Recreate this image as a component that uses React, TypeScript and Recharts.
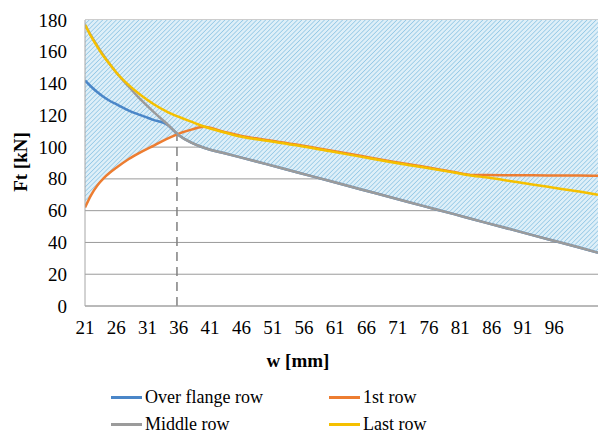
import React from 'react';
import { ComposedChart, Line, Area, XAxis, YAxis, CartesianGrid, ReferenceLine, Legend, Label } from 'recharts';

const wValues = [21, 22, 23, 24, 25, 26, 28, 30, 32, 34, 36, 38, 40, 43, 46, 50, 55, 60, 65, 70, 75, 80, 83, 85, 90, 95, 100, 103];
const overFlangeRow = [142, 138, 134.5, 131.5, 129, 127, 123, 120, 117, 114.5, 107.5, 102.8, 99.6, 96.4, 93.4, 89.3, 84, 78.8, 73.5, 68.3, 63, 57.8, 54.6, 52.5, 47.3, 42, 36.8, 33.5];
const firstRow = [62, 70, 76, 80.5, 84, 87, 92.5, 97, 101, 105, 108.5, 111, 112.8, 109.8, 107, 104.5, 101.5, 98, 94.5, 91, 87.8, 84.3, 82.5, 82.4, 82.3, 82.2, 82.1, 82];
const middleRow = [177, 170, 163.5, 157.5, 152, 147, 138, 129.5, 122, 115, 107.5, 102.8, 99.6, 96.4, 93.4, 89.3, 84, 78.8, 73.5, 68.3, 63, 57.8, 54.6, 52.5, 47.3, 42, 36.8, 33.5];
const lastRow = [177, 169.5, 163, 157, 152, 147, 139, 132.5, 127, 122.5, 119, 116, 113, 109.5, 106.5, 104, 101, 97.5, 94, 90.5, 87.3, 84, 82, 81, 78, 75, 72, 70];

const xTicks = [21, 26, 31, 36, 41, 46, 51, 56, 61, 66, 71, 76, 81, 86, 91, 96];
const yTicks = [0, 20, 40, 60, 80, 100, 120, 140, 160, 180];
const yMax = 180;
const criticalW = 35.7;
const criticalFt = 108;

const seriesNames = ['Over flange row', '1st row', 'Middle row', 'Last row'];
const seriesColors = ['#4a86c8', '#ed7d31', '#9b9b9b', '#f5c000'];

const data = wValues.map((w, i) => ({
  w,
  overFlange: overFlangeRow[i],
  first: firstRow[i],
  middle: middleRow[i],
  last: lastRow[i],
  zone: [Math.min(firstRow[i], middleRow[i]), yMax],
}));

const FONT = "'Liberation Serif', 'Times New Roman', serif";

const XTick = (props: any) => {
  const { x, y, payload } = props;
  return (
    <text x={x} y={y + 6} textAnchor="middle" dominantBaseline="hanging" fontFamily={FONT} fontSize={19} fill="#000">
      {payload.value}
    </text>
  );
};

const YTick = (props: any) => {
  const { y, payload } = props;
  return (
    <text x={67} y={y} textAnchor="end" dominantBaseline="central" fontFamily={FONT} fontSize={19} fill="#000">
      {payload.value}
    </text>
  );
};

const renderLegend = () => (
  <div style={{ position: 'relative', height: 0, width: 600, fontFamily: FONT, fontSize: 18, color: '#000' }}>
    {seriesNames.map((name, i) => (
      <div
        key={name}
        style={{
          position: 'absolute',
          left: i % 2 === 0 ? 111 : 329,
          top: Math.floor(i / 2) * 27,
          display: 'flex',
          alignItems: 'center',
          whiteSpace: 'nowrap',
          lineHeight: '18px',
          height: 18,
        }}
      >
        <span style={{ display: 'inline-block', width: 31, height: 3, background: seriesColors[i], marginRight: 3 }} />
        <span>{name}</span>
      </div>
    ))}
  </div>
);

export default function App() {
  return (
    <div style={{ position: 'absolute', left: 0, top: 0, width: 600, height: 434, background: '#fff', fontFamily: FONT }}>
      <svg width={0} height={0} style={{ position: 'absolute' }}>
        <defs>
          <pattern id="hatch" width="3.2" height="3.2" patternUnits="userSpaceOnUse" patternTransform="rotate(45)">
            <rect x="0" y="0" width="3.2" height="3.2" fill="#deeff8" />
            <line x1="0" y1="0" x2="0" y2="3.2" stroke="#86c1e2" strokeWidth="1.3" />
          </pattern>
        </defs>
      </svg>
      <ComposedChart
        width={600}
        height={434}
        data={data}
        margin={{ top: 20, right: 2, left: 0, bottom: 98 }}
      >
        <Area
          type="monotone"
          dataKey="zone"
          fill="url(#hatch)"
          fillOpacity={1}
          stroke="none"
          isAnimationActive={false}
          legendType="none"
          activeDot={false}
        />
        <CartesianGrid vertical={false} stroke="#9a9a9a" strokeWidth={1} />
        <XAxis
          dataKey="w"
          type="number"
          domain={[21, 103]}
          ticks={xTicks}
          allowDataOverflow
          tickLine={false}
          axisLine={{ stroke: '#a6a6a6', strokeWidth: 1 }}
          tick={<XTick />}
          height={30}
          interval={0}
        >
          <Label
            content={() => (
              <text x={298} y={360} textAnchor="middle" dominantBaseline="central" fontWeight="bold" fontSize={19} fontFamily={FONT} fill="#000">
                w [mm]
              </text>
            )}
          />
        </XAxis>
        <YAxis
          domain={[0, yMax]}
          ticks={yTicks}
          width={85}
          tickLine={false}
          axisLine={{ stroke: '#a6a6a6', strokeWidth: 1 }}
          tick={<YTick />}
          interval={0}
        >
          <Label
            content={() => (
              <text x={20} y={162} textAnchor="middle" dominantBaseline="central" fontWeight="bold" fontSize={19} fontFamily={FONT} fill="#000" transform="rotate(-90 20 162)">
                Ft [kN]
              </text>
            )}
          />
        </YAxis>
        <ReferenceLine
          segment={[{ x: criticalW, y: 0 }, { x: criticalW, y: criticalFt }]}
          stroke="#808080"
          strokeWidth={1.5}
          strokeDasharray="9 6"
        />
        <Line type="monotone" dataKey="overFlange" name={seriesNames[0]} stroke={seriesColors[0]} strokeWidth={2.5} dot={false} isAnimationActive={false} />
        <Line type="monotone" dataKey="first" name={seriesNames[1]} stroke={seriesColors[1]} strokeWidth={2.5} dot={false} isAnimationActive={false} />
        <Line type="monotone" dataKey="middle" name={seriesNames[2]} stroke={seriesColors[2]} strokeWidth={2.5} dot={false} isAnimationActive={false} />
        <Line type="monotone" dataKey="last" name={seriesNames[3]} stroke={seriesColors[3]} strokeWidth={2.5} dot={false} isAnimationActive={false} />
        <Legend content={renderLegend} wrapperStyle={{ left: 0, top: 388, bottom: 'auto', width: 600 }} />
      </ComposedChart>
    </div>
  );
}
